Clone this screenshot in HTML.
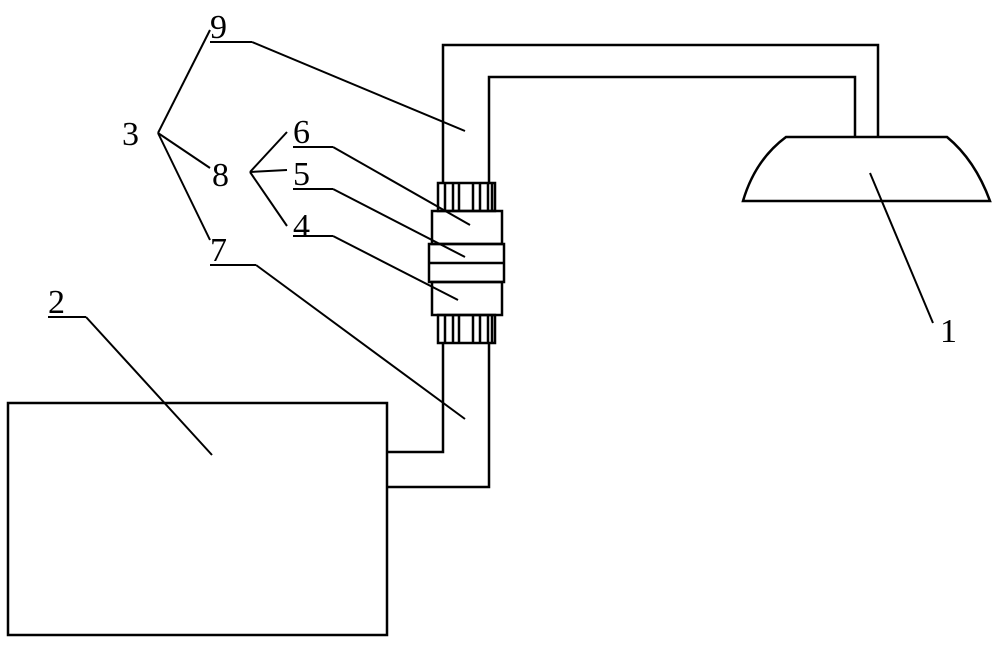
<!DOCTYPE html><html><head><style>body{margin:0;background:#fff}</style></head><body>
<svg width="1000" height="648" xmlns="http://www.w3.org/2000/svg" font-family="Liberation Serif, serif" font-size="34">
<g fill="none" stroke="#000" stroke-width="2.5">
<rect x="8" y="403" width="379" height="232"/>
<polyline points="443,183 443,45 878,45 878,137"/>
<polyline points="489,183 489,77 855,77 855,137"/>
<polyline points="443,343 443,452 387,452"/>
<polyline points="489,343 489,487 387,487"/>
<path d="M786,137 L947,137 Q975,160 990,201 L743,201 Q755,160 786,137 Z"/>
<rect x="438" y="183" width="57" height="28"/>
<rect x="438" y="315" width="57" height="28"/>
<path d="M445,183V211M453,183V211M459,183V211M473,183V211M480,183V211M488,183V211M492,183V211"/>
<path d="M445,315V343M453,315V343M459,315V343M473,315V343M480,315V343M488,315V343M492,315V343"/>
<rect x="432" y="211" width="70" height="33"/>
<rect x="429" y="244" width="75" height="38"/>
<line x1="429" y1="263" x2="504" y2="263"/>
<rect x="432" y="282" width="70" height="33"/>
</g>
<g stroke="#000" stroke-width="2">
<line x1="870" y1="173" x2="933" y2="323"/>
<line x1="48" y1="317" x2="86" y2="317"/><line x1="86" y1="317" x2="212" y2="455"/>
<line x1="210" y1="42" x2="252" y2="42"/><line x1="252" y1="42" x2="465" y2="131"/>
<line x1="210" y1="265" x2="256" y2="265"/><line x1="256" y1="265" x2="465" y2="419"/>
<line x1="293" y1="147" x2="333" y2="147"/><line x1="333" y1="147" x2="470" y2="225"/>
<line x1="293" y1="189" x2="333" y2="189"/><line x1="333" y1="189" x2="465" y2="257"/>
<line x1="293" y1="236" x2="333" y2="236"/><line x1="333" y1="236" x2="458" y2="300"/>
<line x1="158" y1="133" x2="210" y2="30"/><line x1="158" y1="133" x2="210" y2="168"/><line x1="158" y1="133" x2="210" y2="240"/>
<line x1="250" y1="172" x2="287" y2="132"/><line x1="250" y1="172" x2="287" y2="170"/><line x1="250" y1="172" x2="287" y2="226"/>
</g>
<g fill="#000">
<text x="940" y="342">1</text><text x="48" y="313">2</text><text x="122" y="145">3</text>
<text x="293" y="237">4</text><text x="293" y="185">5</text><text x="293" y="143">6</text>
<text x="210" y="261">7</text><text x="212" y="186">8</text><text x="210" y="38">9</text>
</g></svg></body></html>
